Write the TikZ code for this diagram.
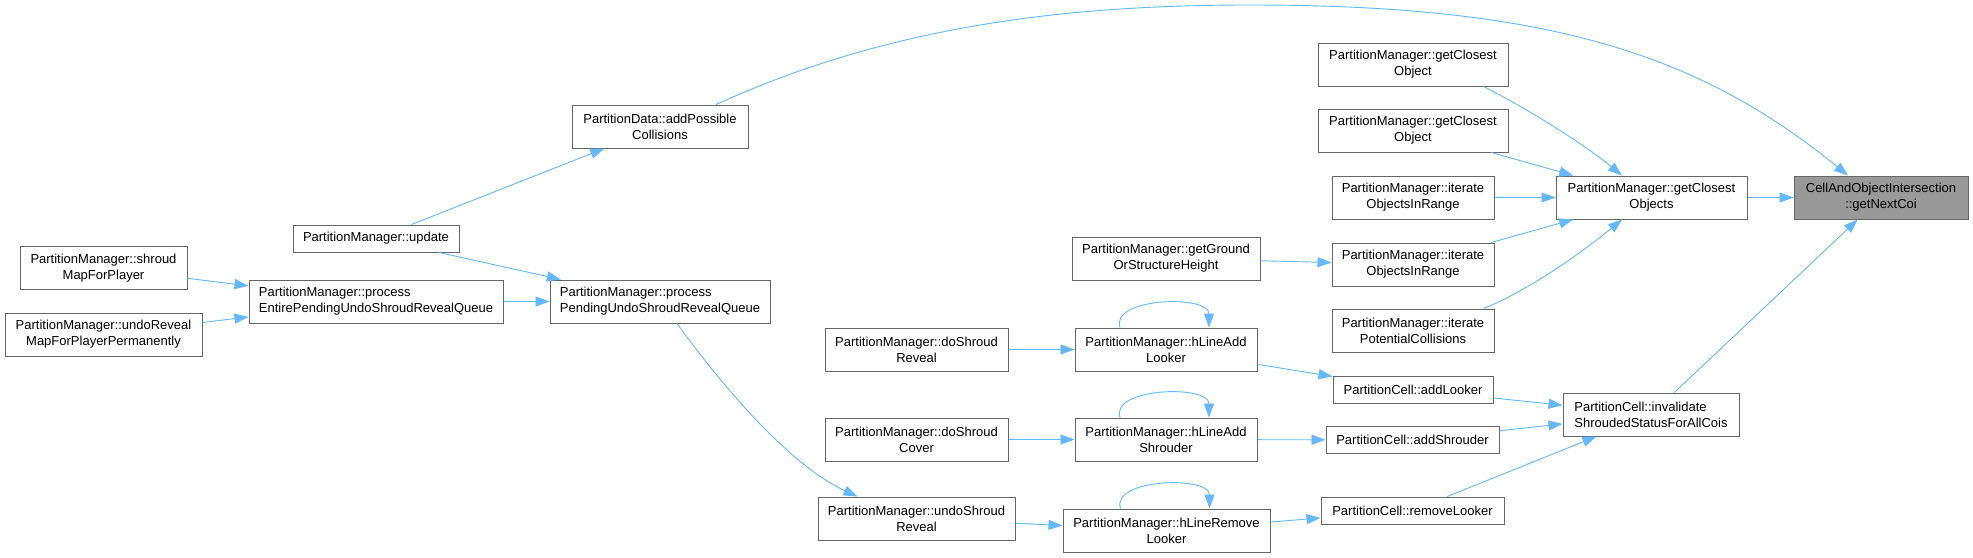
\documentclass[tikz,border=0pt]{standalone}
\usepackage{fontspec}
\setmainfont{Liberation Sans}
\usetikzlibrary{arrows.meta}
\definecolor{edgeblue}{HTML}{63B8FF}
\definecolor{boxborder}{HTML}{666666}
\definecolor{rootfill}{HTML}{999999}
\tikzset{
  box/.style={draw=boxborder, line width=1pt, fill=white, inner sep=0pt, align=center,
    font=\fontsize{13pt}{16pt}\selectfont, minimum height=43pt},
  lbox/.style={box, align=left},
  sbox/.style={box, minimum height=27pt},
  rootbox/.style={box, fill=rootfill},
  edge/.style={draw=edgeblue, line width=0.9pt, -{Triangle[length=14pt,width=10pt]}},
}
\begin{document}
\begin{tikzpicture}[x=1pt,y=-1pt]
\useasboundingbox (0,0) rectangle (1973,557);
% nodes
\node[rootbox, minimum width=174pt] (coi) at (1881,197.5) {CellAndObjectIntersection\\::getNextCoi};
\node[box, minimum width=191pt] (gcos) at (1651.5,197.5) {PartitionManager::getClosest\\Objects};
\node[lbox, minimum width=176pt] (inv) at (1651,414.5) {PartitionCell::invalidate\\ShroudedStatusForAllCois};
\node[box, minimum width=190pt] (gco1) at (1413,64.5) {PartitionManager::getClosest\\Object};
\node[box, minimum width=190pt] (gco2) at (1413,130.5) {PartitionManager::getClosest\\Object};
\node[box, minimum width=162pt] (ior1) at (1413,197.5) {PartitionManager::iterate\\ObjectsInRange};
\node[box, minimum width=162pt] (ior2) at (1413,264.5) {PartitionManager::iterate\\ObjectsInRange};
\node[box, minimum width=162pt] (ipc) at (1413,330.5) {PartitionManager::iterate\\PotentialCollisions};
\node[box, minimum width=188pt] (ggh) at (1166,258.5) {PartitionManager::getGround\\OrStructureHeight};
\node[sbox, minimum width=160pt] (al) at (1413,389.5) {PartitionCell::addLooker};
\node[sbox, minimum width=173pt] (as) at (1412.5,440) {PartitionCell::addShrouder};
\node[sbox, minimum width=183pt] (rl) at (1412.5,510.5) {PartitionCell::removeLooker};
\node[box, minimum width=182pt] (hla) at (1166,349.5) {PartitionManager::hLineAdd\\Looker};
\node[box, minimum width=182pt] (has) at (1166,439.5) {PartitionManager::hLineAdd\\Shrouder};
\node[box, minimum width=207pt] (hrl) at (1166.5,530.5) {PartitionManager::hLineRemove\\Looker};
\node[box, minimum width=183pt] (dsr) at (916.5,349.5) {PartitionManager::doShroud\\Reveal};
\node[box, minimum width=183pt] (dsc) at (916.5,439.5) {PartitionManager::doShroud\\Cover};
\node[box, minimum width=197pt] (usr) at (916.5,518.5) {PartitionManager::undoShroud\\Reveal};
\node[lbox, minimum width=220pt] (ppq) at (660,301.5) {PartitionManager::process\\PendingUndoShroudRevealQueue};
\node[box, minimum width=176pt] (apc) at (660,126.5) {PartitionData::addPossible\\Collisions};
\node[sbox, minimum width=166pt] (upd) at (376,238.5) {PartitionManager::update};
\node[lbox, minimum width=254pt] (pep) at (376,301.5) {PartitionManager::process\\EntirePendingUndoShroudRevealQueue};
\node[box, minimum width=167pt] (smp) at (103.5,268) {PartitionManager::shroud\\MapForPlayer};
\node[box, minimum width=197pt] (urm) at (103.5,334.5) {PartitionManager::undoReveal\\MapForPlayerPermanently};
% edges
\draw[edge] (gcos) -- (coi);
\draw[edge] (inv) -- (coi);
\draw[edge] ([xshift=56pt]apc.north) .. controls (880,30) and (1050,5) .. (1250,5)
  .. controls (1550,5) and (1700,55) .. ([xshift=-33pt]coi.north);
\draw[edge] ([xshift=-25pt]gco1.south east) .. controls (1530,110) and (1585,145) .. ([xshift=-29.5pt]gcos.north);
\draw[edge] (gco2) -- (gcos);
\draw[edge] (ior1) -- (gcos);
\draw[edge] (ior2) -- (gcos);
\draw[edge] ([xshift=-11pt]ipc.north east) .. controls (1530,290) and (1585,250) .. ([xshift=-29.5pt]gcos.south);
\draw[edge] (ggh) -- (ior2);
\draw[edge] (al) -- (inv);
\draw[edge] (as) -- (inv);
\draw[edge] (rl) -- (inv);
\draw[edge] (dsr) -- (hla);
\draw[edge] (hla) -- (al);
\draw[edge] (dsc) -- (has);
\draw[edge] (has) -- (as);
\draw[edge] (usr) -- (hrl);
\draw[edge] (hrl) -- (rl);
\draw[edge] ([xshift=-46pt]hla.north) .. controls +(-10,-30) and +(0,-33) .. ([xshift=43pt]hla.north);
\draw[edge] ([xshift=-46pt]has.north) .. controls +(-10,-30) and +(0,-33) .. ([xshift=43pt]has.north);
\draw[edge] ([xshift=-46pt]hrl.north) .. controls +(-10,-30) and +(0,-33) .. ([xshift=43pt]hrl.north);
\draw[edge] ([xshift=17pt]ppq.south) .. controls (740,410) and (800,470) .. ([xshift=-59pt]usr.north);
\draw[edge] (upd) -- (apc);
\draw[edge] (upd) -- (ppq);
\draw[edge] (pep) -- (ppq);
\draw[edge] (smp) -- (pep);
\draw[edge] (urm) -- (pep);
\end{tikzpicture}
\end{document}
